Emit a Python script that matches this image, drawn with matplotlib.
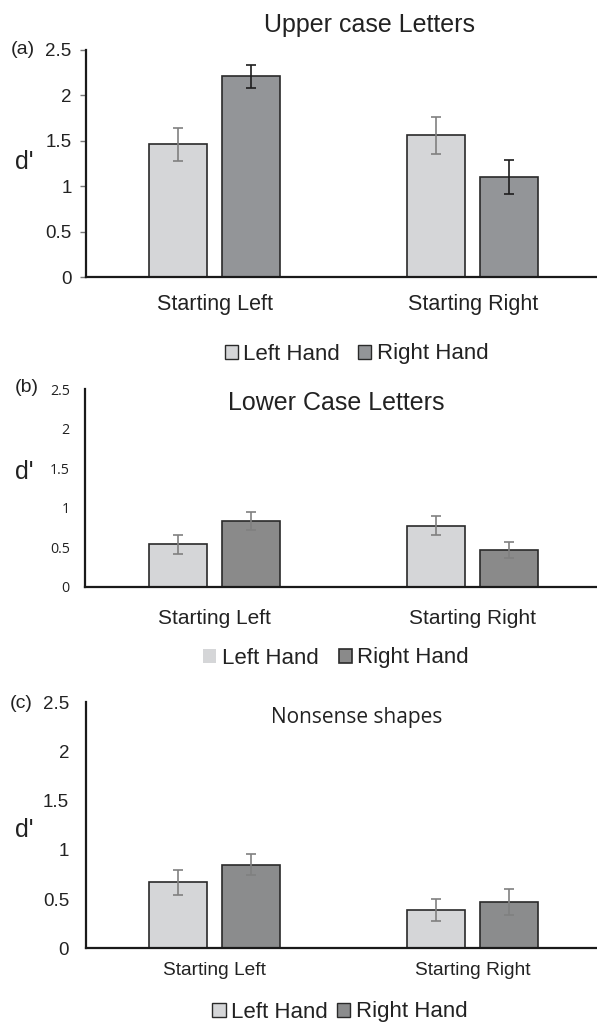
import numpy as np
import matplotlib
matplotlib.use('Agg')
import matplotlib.pyplot as plt
from matplotlib.patches import Patch

# ── Data ──────────────────────────────────────────────────────────────────────
categories = ['Starting Left', 'Starting Right']
series     = ['Left Hand', 'Right Hand']
yticks     = [0, 0.5, 1, 1.5, 2, 2.5]
ytick_lbls = ['0', '0.5', '1', '1.5', '2', '2.5']

upper_left   = [1.46, 1.56]
upper_right  = [2.21, 1.10]
upper_left_err  = [0.18, 0.20]
upper_right_err = [0.13, 0.19]

lower_left   = [0.54, 0.77]
lower_right  = [0.83, 0.46]
lower_left_err  = [0.12, 0.12]
lower_right_err = [0.115, 0.10]

shape_left   = [0.67, 0.39]
shape_right  = [0.85, 0.47]
shape_left_err  = [0.13, 0.115]
shape_right_err = [0.11, 0.13]

# ── Figure setup ──────────────────────────────────────────────────────────────
W, H = 597, 1026
fig = plt.figure(figsize=(W / 100, H / 100), dpi=100)
plt.rcParams['font.family'] = ['Liberation Sans', 'DejaVu Sans']

LIGHT = '#d5d6d8'
EDGE  = '#2a2a2a'
GREY_ERR = '#808080'
TXT = '#222222'


def px_axes(left, top, bottom, right=596):
    return fig.add_axes([left / W, 1 - bottom / H, (right - left) / W, (bottom - top) / H])


def draw_panel(ax, left_vals, right_vals, left_err, right_err, dark, err_colors,
               tick_font, tick_size, tick_len, tick_pad, cat_size, cat_pad):
    x = np.arange(len(categories))
    w, off = 0.225, 0.1415
    ax.bar(x - off, left_vals, w, color=LIGHT, edgecolor=EDGE, linewidth=1.2, zorder=2)
    ax.bar(x + off, right_vals, w, color=dark, edgecolor=EDGE, linewidth=1.2, zorder=2)
    ax.errorbar(x - off, left_vals, yerr=left_err, fmt='none', ecolor=err_colors[0],
                elinewidth=1.2, capsize=3.5, capthick=1.2, zorder=3)
    ax.errorbar(x + off, right_vals, yerr=right_err, fmt='none', ecolor=err_colors[1],
                elinewidth=1.2, capsize=3.5, capthick=1.2, zorder=3)
    ax.set_xlim(-0.5, 1.478)
    ax.set_ylim(0, 2.5)
    ax.set_xticks(x)
    ax.set_xticklabels(categories, fontsize=cat_size, color=TXT)
    ax.tick_params(axis='x', length=0, pad=cat_pad)
    ax.set_yticks(yticks)
    ax.set_yticklabels(ytick_lbls, fontsize=tick_size, color=TXT, family=tick_font)
    ax.tick_params(axis='y', length=tick_len, width=1, color='#777777', pad=tick_pad)
    for s in ['top', 'right']:
        ax.spines[s].set_visible(False)
    for s in ['left', 'bottom']:
        ax.spines[s].set_linewidth(1.6)
        ax.spines[s].set_color('#1a1a1a')
    ax.set_facecolor('none')


def add_legend(handles, cx, cy, colsp):
    fig.legend(handles, series, loc='center', bbox_to_anchor=(cx / W, 1 - cy / H), ncol=2,
               frameon=False, fontsize=16, handlelength=0.6, handleheight=0.6,
               handletextpad=0.25, columnspacing=colsp, labelcolor=TXT)


# ── (a) Upper case letters ────────────────────────────────────────────────────
ax_a = px_axes(85.5, 50, 277)
draw_panel(ax_a, upper_left, upper_right, upper_left_err, upper_right_err,
           '#939598', (GREY_ERR, '#1e1e1e'), ['Liberation Sans'], 13.5, 4, 6,
           15.5, 12)
fig.text(370 / W, 1 - 25 / H, 'Upper case Letters', fontsize=18, ha='center', va='center', color=TXT)
fig.text(24 / W, 1 - 162 / H, "d'", fontsize=18, ha='center', va='center', color=TXT)
fig.text(23 / W, 1 - 50 / H, '(a)', fontsize=14, ha='center', va='center', color=TXT)
add_legend([Patch(facecolor=LIGHT, edgecolor=EDGE, linewidth=1),
            Patch(facecolor='#939598', edgecolor=EDGE, linewidth=1)], 356.5, 354, 0.8)

# ── (b) Lower case letters ────────────────────────────────────────────────────
ax_b = px_axes(85, 389.3, 586.7)
draw_panel(ax_b, lower_left, lower_right, lower_left_err, lower_right_err,
           '#8a8a8a', (GREY_ERR, GREY_ERR), ['Open Sans'], 10.3, 0, 11,
           15, 16)
fig.text(336 / W, 1 - 403 / H, 'Lower Case Letters', fontsize=18, ha='center', va='center', color=TXT)
fig.text(24 / W, 1 - 472 / H, "d'", fontsize=18, ha='center', va='center', color=TXT)
fig.text(27 / W, 1 - 388 / H, '(b)', fontsize=14, ha='center', va='center', color=TXT)
add_legend([Patch(facecolor=LIGHT, edgecolor='none'),
            Patch(facecolor='#8a8a8a', edgecolor=EDGE, linewidth=1.2)], 336, 658, 0.9)

# ── (c) Nonsense shapes ───────────────────────────────────────────────────────
ax_c = px_axes(85.7, 702.3, 948.3)
draw_panel(ax_c, shape_left, shape_right, shape_left_err, shape_right_err,
           '#8b8c8d', (GREY_ERR, GREY_ERR), ['Liberation Sans'], 13.5, 0, 12,
           13.8, 10)
fig.text(357 / W, 1 - 717 / H, 'Nonsense shapes', fontsize=15, ha='center', va='center',
         color=TXT, family=['Open Sans'])
fig.text(24 / W, 1 - 830 / H, "d'", fontsize=18, ha='center', va='center', color=TXT)
fig.text(21 / W, 1 - 703 / H, '(c)', fontsize=14, ha='center', va='center', color=TXT)
add_legend([Patch(facecolor=LIGHT, edgecolor=EDGE, linewidth=1),
            Patch(facecolor='#8b8c8d', edgecolor=EDGE, linewidth=1)], 340, 1012, 0.4)

fig.savefig('out.png', dpi=100)
